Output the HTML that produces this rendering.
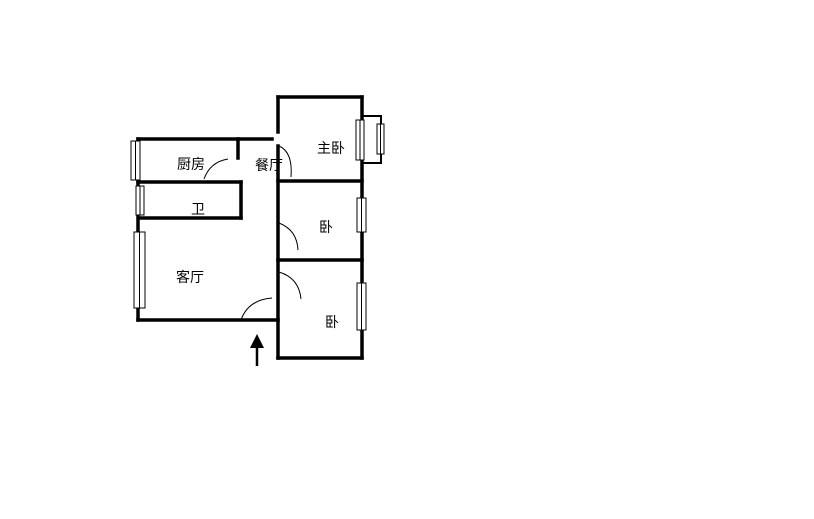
<!DOCTYPE html>
<html><head><meta charset="utf-8"><style>
html,body{margin:0;padding:0;background:#fff;}
svg{display:block}
text{font-family:"Liberation Sans","Noto Sans CJK SC",sans-serif;font-size:14px;fill:#000}
</style></head><body>
<svg width="814" height="519" viewBox="0 0 814 519" xmlns="http://www.w3.org/2000/svg">
<rect width="814" height="519" fill="#fff"/>
<g stroke="#000" stroke-width="3.5" fill="none" stroke-linecap="square">
<!-- right block -->
<line x1="278" y1="97" x2="362" y2="97"/>
<line x1="278" y1="97" x2="278" y2="132"/>
<line x1="278" y1="146" x2="278" y2="358"/>
<line x1="362" y1="97" x2="362" y2="358"/>
<line x1="278" y1="358" x2="362" y2="358"/>
<line x1="278" y1="181" x2="362" y2="181"/>
<line x1="278" y1="260" x2="362" y2="260"/>
<!-- left block -->
<line x1="138" y1="139" x2="272" y2="139"/>
<line x1="238" y1="139" x2="238" y2="158"/>
<line x1="138" y1="139" x2="138" y2="320"/>
<line x1="138" y1="182" x2="241" y2="182"/>
<line x1="241" y1="182" x2="241" y2="218"/>
<line x1="140" y1="218" x2="241" y2="218"/>
<line x1="138" y1="320" x2="278" y2="320"/>
</g>
<g stroke="#000" stroke-width="1" fill="#fff">
<rect x="131" y="141" width="9" height="39"/><line x1="135.5" y1="141" x2="135.5" y2="180"/>
<rect x="136" y="186" width="8" height="29"/><line x1="140" y1="186" x2="140" y2="215"/>
<rect x="134" y="232" width="11" height="76"/><line x1="139.5" y1="232" x2="139.5" y2="308"/>
<rect x="357" y="198" width="9" height="34"/><line x1="361.5" y1="198" x2="361.5" y2="232"/>
<rect x="357" y="283" width="9" height="47"/><line x1="361.5" y1="283" x2="361.5" y2="330"/>
<polyline points="362,116 381,116 381,163 362,163" fill="none" stroke-width="2"/>
<rect x="356" y="120" width="8" height="40"/><line x1="360" y1="120" x2="360" y2="160"/>
<rect x="377" y="124" width="7" height="30"/><line x1="380.5" y1="124" x2="380.5" y2="154"/>
</g>
<g stroke="#000" stroke-width="1" fill="none">
<path d="M279,146 Q293,152 291,177"/>
<path d="M279,223 Q297,230 298,250"/>
<path d="M279,272 Q299,278 301,299"/>
<path d="M241,320 Q248,300 272,298"/>
<path d="M204,179 Q210,162 228,159"/>
</g>
<line x1="257" y1="344" x2="257" y2="366" stroke="#000" stroke-width="2.5"/>
<polygon points="257,334 250,348 264,348" fill="#000"/>
<text x="177" y="169">厨房</text>
<text x="255" y="170">餐厅</text>
<text x="191" y="214">卫</text>
<text x="176" y="282">客厅</text>
<text x="317" y="153">主卧</text>
<text x="319" y="232">卧</text>
<text x="325" y="327">卧</text>
</svg>
</body></html>
